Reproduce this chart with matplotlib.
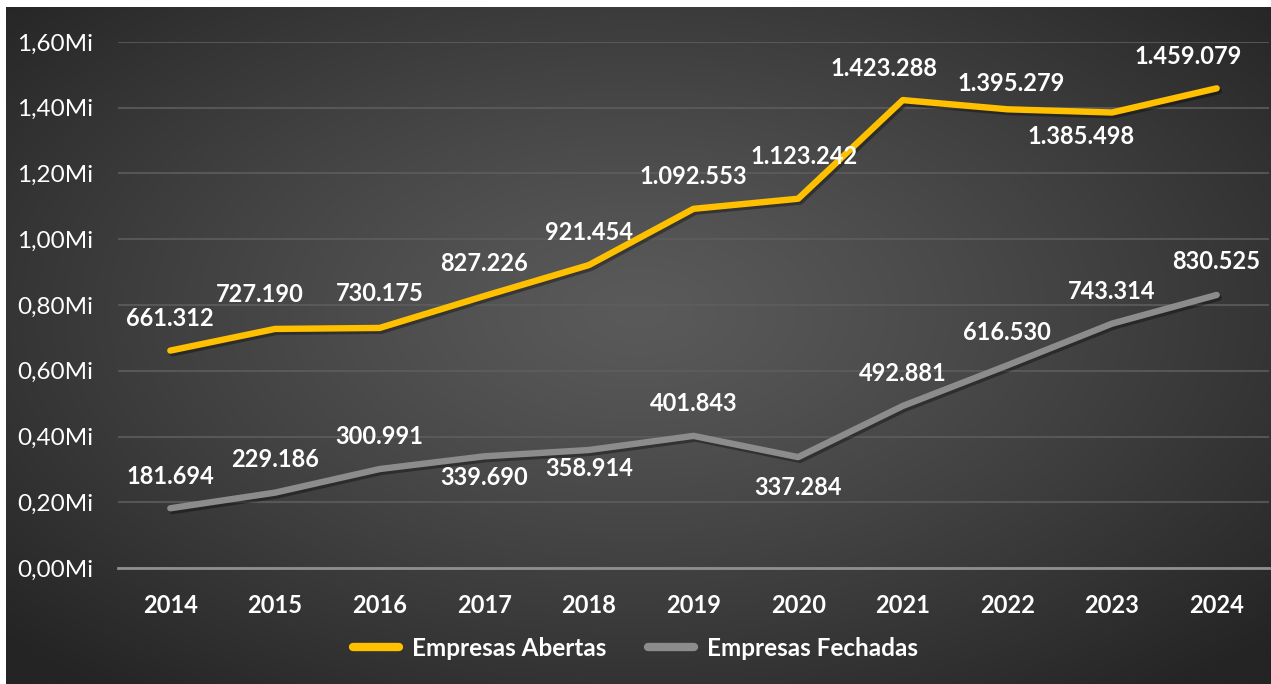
import numpy as np
import matplotlib
matplotlib.use("Agg")
from matplotlib import pyplot as plt
from matplotlib import patheffects as pe
from matplotlib.ticker import FuncFormatter

years = [2014, 2015, 2016, 2017, 2018, 2019, 2020, 2021, 2022, 2023, 2024]
abertas = [661312, 727190, 730175, 827226, 921454, 1092553, 1123242, 1423288, 1395279, 1385498, 1459079]
fechadas = [181694, 229186, 300991, 339690, 358914, 401843, 337284, 492881, 616530, 743314, 830525]

# label offsets in pixels (dx, dy) relative to each point
off_abertas = [(0, 32), (-15, 34), (0, 34), (0, 33), (0, 33), (0, 32), (6, 42), (-19, 32), (4, 26), (-31, -24), (-29, 32)]
off_fechadas = [(0, 32), (0, 33), (0, 33), (0, -21), (0, -18), (0, 32), (0, -30), (0, 32), (0, 33), (0, 32), (0, 33)]

YELLOW = "#FFC000"
GRAY = "#8C8C8C"

plt.rcParams["font.family"] = ["Lato", "DejaVu Sans"]

fig = plt.figure(figsize=(12.71, 6.84), dpi=100)
fig.patch.set_facecolor("white")

# background panel with radial gradient
bg = fig.add_axes([6 / 1271, 0, 1 - 6 / 1271, 1 - 7 / 684])
bg.set_axis_off()
gx, gy = np.meshgrid(np.linspace(-1, 1, 400), np.linspace(-1, 1, 220))
r = np.sqrt((gx * 0.95) ** 2 + ((gy + 0.1) * 0.9) ** 2) / 1.3
r = np.clip(r, 0, 1)
shade = (0x5a - (0x5a - 0x24) * r ** 1.2) / 255.0
img = np.dstack([shade, shade, shade])
bg.imshow(img, aspect="auto", extent=[0, 1, 0, 1], interpolation="bicubic")

ax = fig.add_axes([118 / 1271, 116 / 684, 1151 / 1271, 526 / 684])
ax.set_facecolor("none")
ax.set_xlim(2013.5, 2024.5)
ax.set_ylim(0, 1.6e6)

shadow = [pe.SimpleLineShadow(offset=(1.5, -2), shadow_color="black", alpha=0.35), pe.Normal()]
ax.plot(years, abertas, color=YELLOW, lw=4.6, solid_capstyle="round", solid_joinstyle="round",
        path_effects=shadow, clip_on=False, zorder=4, label="Empresas Abertas")
ax.plot(years, fechadas, color=GRAY, lw=4.6, solid_capstyle="round", solid_joinstyle="round",
        path_effects=shadow, clip_on=False, zorder=4, label="Empresas Fechadas")


def fmt_br(v):
    return f"{v:,}".replace(",", ".")


for xs, ys, offs in [(years, abertas, off_abertas), (years, fechadas, off_fechadas)]:
    for x, y, (dx, dy) in zip(xs, ys, offs):
        ax.annotate(fmt_br(y), (x, y), xytext=(dx, dy), textcoords="offset pixels",
                    ha="center", va="center", color="white", fontsize=17,
                    fontweight="bold", zorder=5, annotation_clip=False)

ax.set_yticks(np.arange(0, 1.61e6, 0.2e6))
ax.yaxis.set_major_formatter(FuncFormatter(lambda v, p: f"{v / 1e6:.2f}".replace(".", ",") + "Mi"))
ax.set_xticks(years)
ax.grid(axis="y", color="#5e5e5e", lw=1.5, alpha=0.8)
ax.set_axisbelow(True)
for s in ["top", "right", "left"]:
    ax.spines[s].set_visible(False)
ax.spines["bottom"].set_color("#8f8f8f")
ax.spines["bottom"].set_linewidth(2)
ax.tick_params(axis="both", length=0)
ax.tick_params(axis="y", pad=18, labelsize=17.5, labelcolor="white")
ax.tick_params(axis="x", pad=19, labelsize=17, labelcolor="white")
for t in ax.get_xticklabels():
    t.set_fontweight("bold")

leg = fig.legend(loc="center", bbox_to_anchor=(0.5, 1 - 648 / 684), ncol=2, frameon=False,
                 prop={"size": 17.5, "weight": "bold"}, labelcolor="white",
                 handlelength=1.9, handletextpad=0.55, columnspacing=1.7)
for h in leg.get_lines():
    h.set_linewidth(6)
    h.set_path_effects([])

fig.savefig("out.png", dpi=100, facecolor=fig.get_facecolor())
